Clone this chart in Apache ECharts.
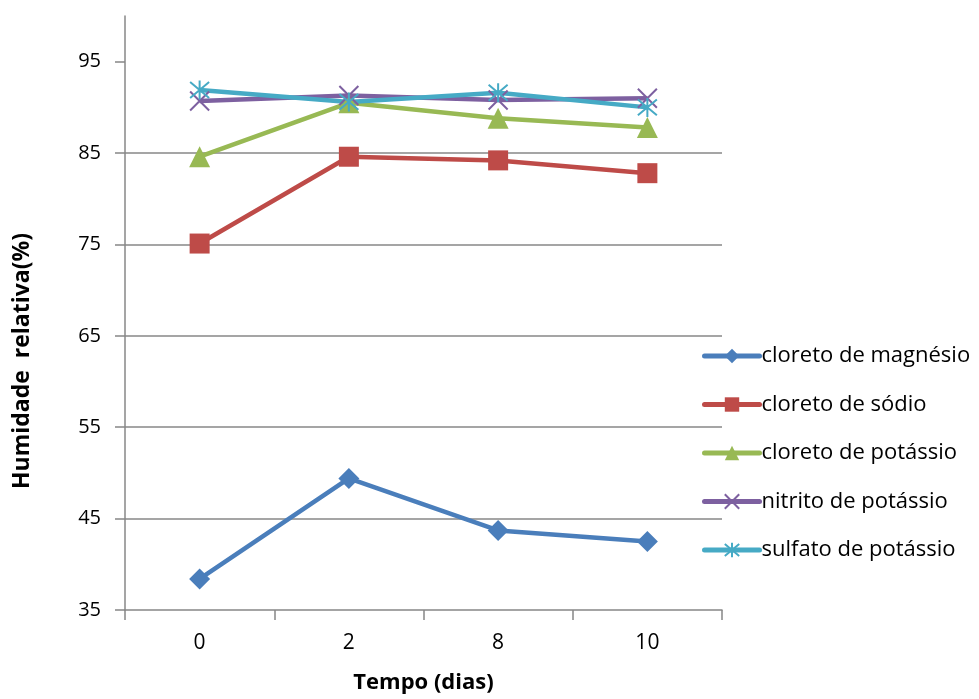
<!DOCTYPE html>
<html>
<head>
<meta charset="utf-8">
<script src="https://cdn.jsdelivr.net/npm/echarts@6/dist/echarts.min.js"></script>
<style>
  html, body { margin: 0; padding: 0; background: #fff; }
  #chart { width: 979px; height: 699px; }
</style>
</head>
<body>
<div id="chart"></div>
<script>
// Days of measurement
var days = ['0', '2', '8', '10'];

// Relative humidity (%) for each saturated salt solution
var cloretoMagnesio = [38.4, 49.4, 43.7, 42.5];
var cloretoSodio = [75.1, 84.6, 84.2, 82.8];
var cloretoPotassio = [84.6, 90.5, 88.8, 87.8];
var nitritoPotassio = [90.7, 91.3, 90.8, 91.0];
var sulfatoPotassio = [91.9, 90.6, 91.6, 90.0];

var yTicks = [35, 45, 55, 65, 75, 85, 95];

var FONT = '"Open Sans", "Liberation Sans", sans-serif';
var AXIS_GRAY = '#878787';

// stroked marker shapes
var crossPath = 'path://M0,0L10,10M10,0L0,10';
var starPath = 'path://M0,0L10,10M10,0L0,10M5,-1L5,11';

function lineSeries(name, data, color, symbol, size, stroked) {
  return {
    name: name,
    type: 'line',
    data: data,
    symbol: symbol,
    symbolSize: size,
    showSymbol: true,
    lineStyle: { color: color, width: 4.5 },
    itemStyle: stroked
      ? { color: 'rgba(0,0,0,0)', borderColor: color, borderWidth: 2 }
      : { color: color, borderWidth: 0 },
    emphasis: { disabled: true },
    animation: false,
    z: 2
  };
}

var chart = echarts.init(document.getElementById('chart'));
chart.setOption({
  animation: false,
  backgroundColor: '#ffffff',
  grid: { left: 125, right: 257, top: 16, bottom: 88, containLabel: false },
  legend: {
    orient: 'vertical',
    left: 697,
    top: 340,
    itemWidth: 55,
    itemHeight: 18,
    itemGap: 26.5,
    lineStyle: { width: 5, cap: 'round' },
    textStyle: { fontFamily: FONT, fontSize: 22, color: '#000', padding: [0, 0, 0, -3] },
    data: ['cloreto de magnésio', 'cloreto de sódio', 'cloreto de potássio', 'nitrito de potássio', 'sulfato de potássio']
  },
  xAxis: {
    type: 'category',
    data: days,
    boundaryGap: true,
    name: 'Tempo (dias)',
    nameLocation: 'middle',
    nameGap: 62,
    nameTextStyle: { fontFamily: FONT, fontSize: 22, fontWeight: 'bold', color: '#000' },
    axisLine: { lineStyle: { color: AXIS_GRAY, width: 1.5 } },
    axisTick: { show: true, length: 10, inside: false, lineStyle: { color: AXIS_GRAY, width: 1.5 } },
    axisLabel: { fontFamily: FONT, fontSize: 21, color: '#000', margin: 23 },
    splitLine: { show: false }
  },
  yAxis: {
    type: 'value',
    min: 35,
    max: 100,
    interval: 10,
    name: 'Humidade  relativa(%)',
    nameLocation: 'middle',
    nameGap: 91,
    nameRotate: 90,
    nameTextStyle: { fontFamily: FONT, fontSize: 23, fontWeight: 'bold', color: '#000', padding: [0, 96, 0, 0] },
    axisLine: { show: true, lineStyle: { color: AXIS_GRAY, width: 1.5 } },
    axisTick: { show: true, length: 10, inside: false, customValues: yTicks, lineStyle: { color: AXIS_GRAY, width: 1.5 } },
    axisLabel: { fontFamily: FONT, fontSize: 20, color: '#000', margin: 24, customValues: yTicks },
    splitLine: { show: true, showMaxLine: false, showMinLine: false, lineStyle: { color: AXIS_GRAY, width: 1.5 } }
  },
  series: [
    lineSeries('cloreto de magnésio', cloretoMagnesio, '#4a7ebb', 'diamond', 21, false),
    lineSeries('cloreto de sódio', cloretoSodio, '#be4b48', 'rect', 20, false),
    lineSeries('cloreto de potássio', cloretoPotassio, '#98b954', 'triangle', 21, false),
    lineSeries('nitrito de potássio', nitritoPotassio, '#7d60a0', crossPath, 19, true),
    lineSeries('sulfato de potássio', sulfatoPotassio, '#46aac5', starPath, 19, true)
  ]
});
</script>
</body>
</html>
